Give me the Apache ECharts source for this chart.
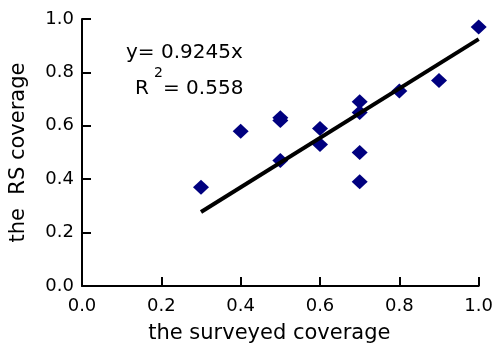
<!DOCTYPE html>
<html>
<head>
<meta charset="utf-8">
<script src="https://cdn.jsdelivr.net/npm/echarts@6/dist/echarts.min.js"></script>
<style>
  html, body { margin: 0; padding: 0; background: #fff; }
  #chart { width: 496px; height: 349px; }
</style>
</head>
<body>
<div id="chart"></div>
<script>
// surveyed coverage vs RS coverage
const surveyed = [0.3, 0.4, 0.5, 0.5, 0.5, 0.6, 0.6, 0.7, 0.7, 0.7, 0.7, 0.8, 0.9, 1.0]
const rsCover = [0.37, 0.58, 0.63, 0.62, 0.47, 0.59, 0.53, 0.69, 0.65, 0.50, 0.39, 0.73, 0.77, 0.97]
const slope = 0.9245
const fitRange = [0.3, 1.0]
const tickLabels = ['0.0', '0.2', '0.4', '0.6', '0.8', '1.0']

const font = 'DejaVu Sans'
const chart = echarts.init(document.getElementById('chart'))

const axisCommon = {
  min: 0,
  max: 1,
  interval: 0.2,
  axisLine: { show: true, onZero: false, lineStyle: { color: '#000', width: 2 } },
  axisTick: { show: true, inside: true, length: 9, lineStyle: { color: '#000', width: 2 } },
  splitLine: { show: false },
  axisLabel: {
    color: '#000',
    fontSize: 18,
    fontFamily: font,
    formatter: (v) => tickLabels[Math.round(v * 5)]
  },
  nameTextStyle: { color: '#000', fontSize: 21, fontFamily: font }
}

const txt = (left, top, text, size) => ({
  type: 'text', left, top,
  style: { text, fill: '#000', fontSize: size, fontFamily: font }
})

chart.setOption({
  animation: false,
  grid: { left: 81, right: 15, top: 19, bottom: 62 },
  xAxis: {
    ...axisCommon,
    type: 'value',
    name: 'the surveyed coverage',
    nameLocation: 'middle',
    nameGap: 37,
    nameTextStyle: { ...axisCommon.nameTextStyle, padding: [0, 22, 0, 0] },
    axisLabel: { ...axisCommon.axisLabel, margin: 11 }
  },
  yAxis: {
    ...axisCommon,
    type: 'value',
    name: 'the  RS coverage',
    nameLocation: 'middle',
    nameGap: 53,
    axisLabel: { ...axisCommon.axisLabel, margin: 8 }
  },
  graphic: [
    txt(126, 43, 'y= 0.9245x', 20),
    txt(135, 79, 'R', 20),
    txt(154, 66, '2', 14),
    txt(163, 79, '= 0.558', 20)
  ],
  series: [
    {
      type: 'line',
      data: fitRange.map(x => [x, x * slope]),
      symbol: 'none',
      lineStyle: { color: '#000', width: 4 },
      z: 3
    },
    {
      type: 'scatter',
      data: surveyed.map((x, i) => [x, rsCover[i]]),
      symbol: 'diamond',
      symbolSize: [16, 15],
      itemStyle: { color: '#00007f', opacity: 1 },
      z: 2
    }
  ]
})
</script>
</body>
</html>
